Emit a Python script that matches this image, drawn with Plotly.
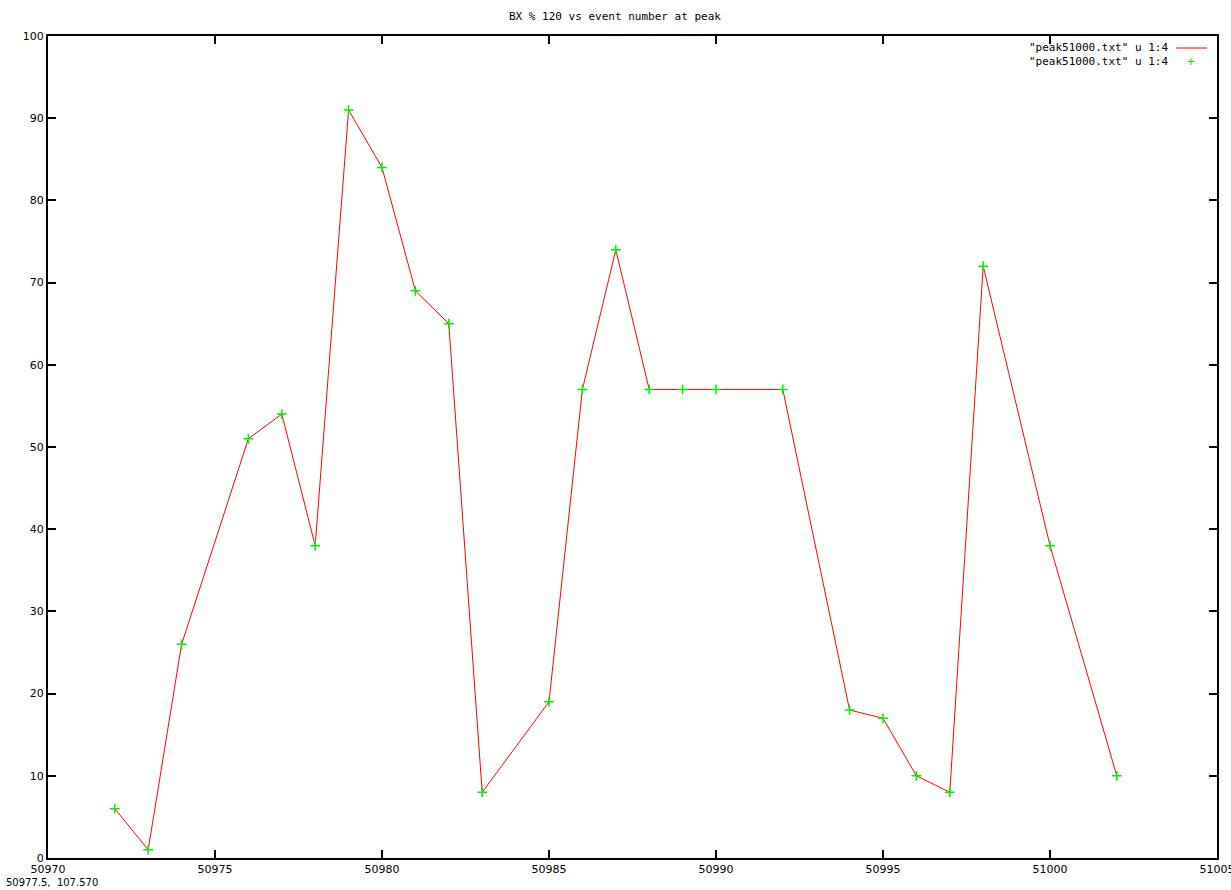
import plotly.graph_objects as go

event_number = [50972, 50973, 50974, 50976, 50977, 50978, 50979, 50980, 50981, 50982,
                50983, 50985, 50986, 50987, 50988, 50989, 50990, 50992, 50994, 50995,
                50996, 50997, 50998, 51000, 51002]
bx_mod = [6, 1, 26, 51, 54, 38, 91, 84, 69, 65,
          8, 19, 57, 74, 57, 57, 57, 57, 18, 17,
          10, 8, 72, 38, 10]

x_ticks = [50970, 50975, 50980, 50985, 50990, 50995, 51000, 51005]
y_ticks = [0, 10, 20, 30, 40, 50, 60, 70, 80, 90, 100]

title_text = "BX % 120 vs event number at peak"
legend_label = '"peak51000.txt" u 1:4'
coord_text = "50977.5,  107.570"

fig = go.Figure()
fig.add_trace(go.Scatter(x=event_number, y=bx_mod, mode="lines",
                         line=dict(color="#ff0000", width=1), showlegend=False, hoverinfo="skip"))
fig.add_trace(go.Scatter(x=event_number, y=bx_mod, mode="markers",
                         marker=dict(symbol="cross-thin", size=7, line=dict(color="#00ee00", width=1.5)),
                         showlegend=False, cliponaxis=False))

axis_common = dict(showline=True, linecolor="black", linewidth=2, mirror="ticks",
                   ticks="inside", ticklen=8, tickwidth=2, tickcolor="black",
                   showgrid=False, zeroline=False, automargin=False,
                   tickfont=dict(family="DejaVu Sans", size=11, color="black"))

fig.update_xaxes(range=[50970, 51005], tickvals=x_ticks, ticktext=[str(v) for v in x_ticks],
                 ticklabeloverflow="allow", **axis_common)
fig.update_yaxes(range=[0, 100], tickvals=y_ticks, ticktext=[str(v) for v in y_ticks], **axis_common)

fig.update_layout(
    width=1231, height=890,
    margin=dict(l=48, r=14, t=36, b=32),
    paper_bgcolor="white", plot_bgcolor="white",
    showlegend=False,
)

plot_w = 1231 - 48 - 14
plot_h = 890 - 36 - 32
def px(xp):
    return (xp - 48) / plot_w
def py(yp):
    return 1 - (yp - 36) / plot_h

fig.add_annotation(text=title_text, x=px(615), y=py(16), xref="paper", yref="paper", showarrow=False,
                   xanchor="center", yanchor="middle",
                   font=dict(family="DejaVu Sans Mono", size=11, color="black"))
for yy in [48, 62]:
    fig.add_annotation(text=legend_label, x=px(1170), y=py(yy), xref="paper", yref="paper",
                       showarrow=False, xanchor="right", yanchor="middle",
                       font=dict(family="DejaVu Sans Mono", size=11, color="black"))
fig.add_shape(type="line", xref="paper", yref="paper", x0=px(1176), x1=px(1207), y0=py(48), y1=py(48),
              line=dict(color="#ff0000", width=1))
fig.add_annotation(text="+", x=px(1191), y=py(62), xref="paper", yref="paper", showarrow=False,
                   xanchor="center", yanchor="middle",
                   font=dict(family="DejaVu Sans Mono", size=13, color="#00ee00"))
fig.add_annotation(text=coord_text, x=px(4), y=py(882), xref="paper", yref="paper", showarrow=False,
                   xanchor="left", yanchor="middle",
                   font=dict(family="DejaVu Sans", size=10, color="black"))

fig.write_html("out.html", config={"displayModeBar": False},
               post_script="document.body.style.margin='0px';document.body.style.overflow='hidden';")
